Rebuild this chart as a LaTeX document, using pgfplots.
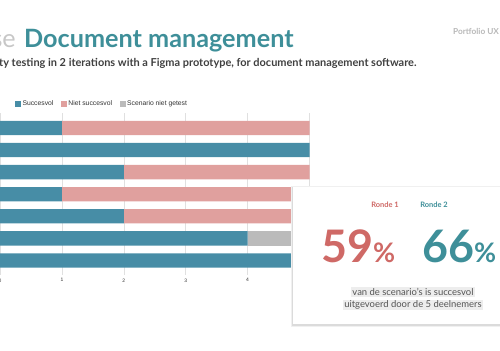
\documentclass[border=0pt]{standalone}
\usepackage{pgfplots}
\pgfplotsset{compat=1.18}
\usepackage{fontspec}
\setmainfont{Lato}
\newfontfamily\arial{Liberation Sans}

\definecolor{succ}{HTML}{478DA6}
\definecolor{fail}{HTML}{E0A09E}
\definecolor{untested}{HTML}{BBBBBB}
\definecolor{titleteal}{HTML}{3E8F99}
\definecolor{coral}{HTML}{CF6966}
\definecolor{bodygray}{HTML}{555555}

\begin{document}
\begin{tikzpicture}[x=1bp,y=1bp]
\path[use as bounding box] (0,0) rectangle (500,350);

% header
\node[anchor=base east, inner sep=0, text=black!22] at (16,303)
  {\fontsize{25.3}{30}\selectfont se};
\node[anchor=base west, inner sep=0, text=titleteal] at (24,303)
  {\fontsize{25.3}{30}\selectfont\bfseries Document management};
\node[anchor=base west, inner sep=0, text=black!75] at (-1,284)
  {\fontsize{11}{12}\selectfont\bfseries ty testing in 2 iterations with a Figma prototype, for document management software.};
\node[anchor=base west, inner sep=0, text=black!28] at (453,316)
  {\fontsize{8.3}{9}\selectfont\bfseries Portfolio UX};

\begin{axis}[
  at={(0bp,75bp)}, anchor=south west,
  scale only axis, width=309.5bp, height=162bp,
  xbar stacked, bar width=14.3bp,
  xmin=0, xmax=5, ymin=-0.68, ymax=6.66, y dir=reverse,
  xtick={0,...,5}, ytick=\empty,
  xmajorgrids, grid style={draw=black!12, line width=0.5bp},
  axis line style={draw=none},
  major tick length=0pt,
  tick label style={font=\arial\fontsize{5}{6}\selectfont, text=black!80},
  /pgf/number format/assume math mode=true,
  legend columns=-1,
  legend image code/.code={\fill[#1] (0bp,-3bp) rectangle (6bp,3bp);},
  legend style={at={(0.048,1.056)}, anchor=west, draw=none, fill=none,
    inner sep=0pt, font=\arial\fontsize{6.8}{8}\selectfont, text=black!80,
    nodes={inner sep=1.5bp},
    /tikz/every even column/.append style={column sep=6bp}},
]
\addplot[fill=succ, draw=none] coordinates {(1,0) (5,1) (2,2) (1,3) (2,4) (4,5) (5,6)};
\addplot[fill=fail, draw=none] coordinates {(4,0) (0,1) (3,2) (4,3) (3,4) (0,5) (0,6)};
\addplot[fill=untested, draw=none] coordinates {(0,0) (0,1) (0,2) (0,3) (0,4) (1,5) (0,6)};
\legend{Succesvol, Niet succesvol, Scenario niet getest}
\end{axis}

% result card
\fill[black!6] (290.5,23.5) rectangle (510,164.5);
\fill[black!14] (291.5,24.5) rectangle (510,163.5);
\fill[white] (293,26) rectangle (510,163);
\node[text=coral] at (385,145) {\fontsize{7.5}{9}\selectfont\bfseries Ronde 1};
\node[text=titleteal] at (434,145) {\fontsize{7.5}{9}\selectfont\bfseries Ronde 2};
\node[anchor=base west, inner sep=0, text=coral] at (321,88)
  {\fontsize{45}{45}\selectfont\bfseries 59\fontsize{27}{27}\selectfont\%};
\node[anchor=base west, inner sep=0, text=titleteal] at (422,88)
  {\fontsize{45}{45}\selectfont\bfseries 66\fontsize{27}{27}\selectfont\%};
\node[fill=black!7, inner sep=1bp, text=bodygray] at (413,58)
  {\fontsize{9.5}{11}\selectfont van de scenario’s is succesvol};
\node[fill=black!7, inner sep=1bp, text=bodygray] at (413,45)
  {\fontsize{9.5}{11}\selectfont uitgevoerd door de 5 deelnemers};
\end{tikzpicture}
\end{document}
